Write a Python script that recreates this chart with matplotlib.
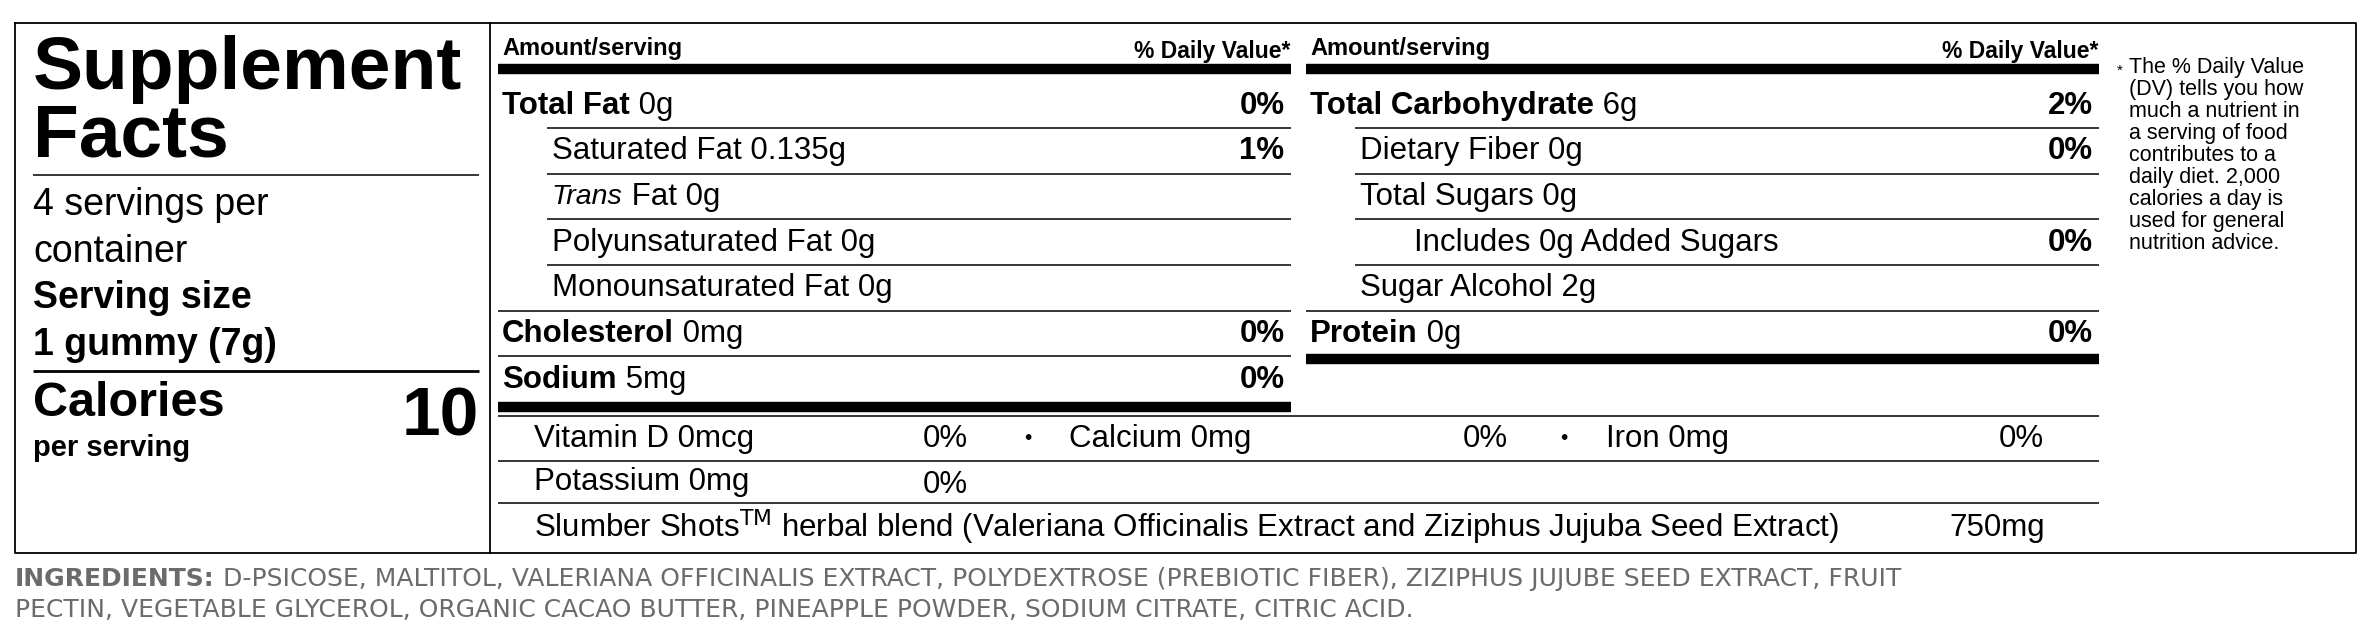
import matplotlib
matplotlib.use("Agg")
import matplotlib.pyplot as plt

plt.rcParams['font.family'] = ['Liberation Sans', 'DejaVu Sans']

# label content
servings = ["4 servings per", "container"]
serving_size = ["Serving size", "1 gummy (7g)"]
calories = "10"

left_rows = [  # (bold part, normal part, indent, %DV)
    ("Total Fat", " 0g", 0, "0%"),
    ("", "Saturated Fat 0.135g", 1, "1%"),
    ("", "Trans Fat 0g", 1, ""),
    ("", "Polyunsaturated Fat 0g", 1, ""),
    ("", "Monounsaturated Fat 0g", 1, ""),
    ("Cholesterol", " 0mg", 0, "0%"),
    ("Sodium", " 5mg", 0, "0%"),
]
right_rows = [
    ("Total Carbohydrate", " 6g", 0, "2%"),
    ("", "Dietary Fiber 0g", 1, "0%"),
    ("", "Total Sugars 0g", 1, ""),
    ("", "Includes 0g Added Sugars", 2, "0%"),
    ("", "Sugar Alcohol 2g", 1, ""),
    ("Protein", " 0g", 0, "0%"),
]
minerals = [("Vitamin D 0mcg", "0%"), ("Calcium 0mg", "0%"), ("Iron 0mg", "0%")]
potassium = ("Potassium 0mg", "0%")
blend = ("Slumber Shots$^{\\mathrm{TM}}$ herbal blend (Valeriana Officinalis Extract and Ziziphus Jujuba Seed Extract)", "750mg")
footnote = ["The % Daily Value", "(DV) tells you how", "much a nutrient in", "a serving of food",
            "contributes to a", "daily diet. 2,000", "calories a day is", "used for general", "nutrition advice."]
ingredients = ["INGREDIENTS:", " D-PSICOSE, MALTITOL, VALERIANA OFFICINALIS EXTRACT, POLYDEXTROSE (PREBIOTIC FIBER), ZIZIPHUS JUJUBE SEED EXTRACT, FRUIT",
               "PECTIN, VEGETABLE GLYCEROL, ORGANIC CACAO BUTTER, PINEAPPLE POWDER, SODIUM CITRATE, CITRIC ACID."]

fig = plt.figure(figsize=(23.64, 6.30), dpi=100)
ax = fig.add_axes([0, 0, 1, 1])
ax.set_xlim(0, 1568)
ax.set_ylim(418, 0)
ax.axis('off')

K = 'black'
thin = 1.1
thick = 7.5
fs = 22.5
fs_left = 27

def hline(y, x0, x1, lw=thin):
    ax.plot([x0, x1], [y, y], color=K, lw=lw, solid_capstyle='butt')

# outer box and divider
ax.plot([10, 1563, 1563, 10, 10], [15, 15, 367, 367, 15], color=K, lw=1.3)
ax.plot([325, 325], [15, 367], color=K, lw=1.3)

# title block
ax.text(22, 46, "Supplement", fontsize=54, weight='bold', va='center')
ax.text(22, 91, "Facts", fontsize=54, weight='bold', va='center')
hline(116, 22, 318)
ax.text(22, 136, servings[0], fontsize=fs_left, va='center')
ax.text(22, 167, servings[1], fontsize=fs_left, va='center')
ax.text(22, 198, serving_size[0], fontsize=fs_left, weight='bold', va='center')
ax.text(22, 229, serving_size[1], fontsize=fs_left, weight='bold', va='center')
hline(246, 22, 318, lw=2)
ax.text(22, 268, "Calories", fontsize=35, weight='bold', va='center')
ax.text(22, 297, "per serving", fontsize=21, weight='bold', va='center')
ax.text(318, 277, calories, fontsize=50, weight='bold', va='center', ha='right')

def column(rows, x0, x1, tail):
    ax.text(x0 + 3, 32, "Amount/serving", fontsize=17, weight='bold', va='center')
    ax.text(x1, 34, "% Daily Value*", fontsize=16.5, weight='bold', va='center', ha='right')
    hline(46, x0, x1, lw=thick)
    y = 70
    for i, (b, n, ind, dv) in enumerate(rows):
        x = x0 + 3 + ind * 33 + (ind == 2) * 3
        if b:
            t = ax.text(x, y, b, fontsize=fs, weight='bold', va='center')
            ax.annotate(n, xycoords=t, xy=(1, 0.5), va='center', fontsize=fs)
        elif n.startswith("Trans"):
            t = ax.text(x, y, "Trans", fontsize=fs - 2, style='italic', va='center')
            ax.annotate(" Fat 0g", xycoords=t, xy=(1, 0.5), va='center', fontsize=fs)
        else:
            ax.text(x, y, n, fontsize=fs, va='center')
        if dv:
            ax.text(x1 - 4, y, dv, fontsize=fs, weight='bold', va='center', ha='right')
        if i < len(rows) - 1:
            hline(y + 15, x0 + (33 if rows[i + 1][2] else 0), x1)
        y += 30.3
    hline(tail, x0, x1, lw=thick)

column(left_rows, 330, 856, 270)
column(right_rows, 866, 1392, 238)

# bottom rows
hline(276, 330, 1392)
y = 291
ax.text(354, y, minerals[0][0], fontsize=fs, va='center')
ax.text(612, y, minerals[0][1], fontsize=fs, va='center')
ax.text(679, y, "•", fontsize=15, va='center')
ax.text(709, y, minerals[1][0], fontsize=fs, va='center')
ax.text(970, y, minerals[1][1], fontsize=fs, va='center')
ax.text(1035, y, "•", fontsize=15, va='center')
ax.text(1065, y, minerals[2][0], fontsize=fs, va='center')
ax.text(1326, y, minerals[2][1], fontsize=fs, va='center')
hline(306, 330, 1392)
ax.text(354, 320, potassium[0], fontsize=fs, va='center')
ax.text(612, 322, potassium[1], fontsize=fs, va='center')
hline(334, 330, 1392)
ax.text(354, 350, blend[0], fontsize=fs, va='center')
ax.text(1293, 350, blend[1], fontsize=fs, va='center')

# footnote
ax.text(1404, 47, "*", fontsize=11, va='center')
for i, line in enumerate(footnote):
    ax.text(1412, 45 + i * 14.6, line, fontsize=15.5, va='center', linespacing=1.0)

# ingredients
gray = '#6b6b6b'
t = ax.text(10, 384, ingredients[0], fontsize=18, color=gray, weight='bold', va='center', family='DejaVu Sans')
ax.annotate(ingredients[1], xycoords=t, xy=(1, 0.5), va='center', fontsize=18, color=gray, family='DejaVu Sans')
ax.text(10, 405, ingredients[2], fontsize=18, color=gray, va='center', family='DejaVu Sans')

fig.savefig("out.png", dpi=100, facecolor='white')
